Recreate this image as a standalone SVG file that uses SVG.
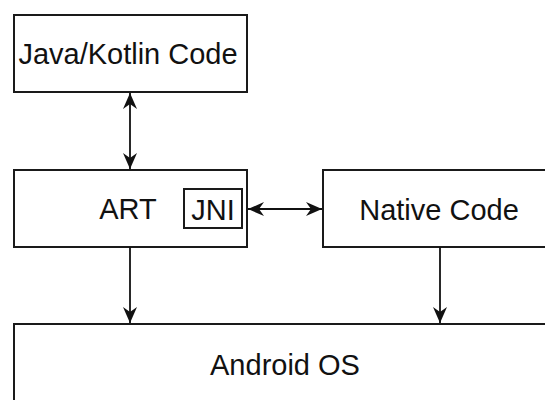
<svg xmlns="http://www.w3.org/2000/svg" width="545" height="400" viewBox="0 0 545 400">
<style>
.box{fill:#fff;stroke:#1a1a1a;stroke-width:2}
.lbl{font-family:"Liberation Sans",Arial,Helvetica,sans-serif;font-size:29px;fill:#111;text-anchor:middle}
.con{stroke:#111;stroke-width:1.8;fill:none}
</style>
<defs>
<marker id="ah" markerUnits="userSpaceOnUse" viewBox="0 0 16 16" markerWidth="16" markerHeight="16" refX="16" refY="8" orient="auto-start-reverse">
<path d="M0,1 L16,8 L0,15 L5,8 Z" fill="#111"/>
</marker>
</defs>
<rect width="545" height="400" fill="#fff"/>
<g id="java">
<rect class="box" x="14" y="15" width="233" height="77"/>
<text class="lbl" x="128" y="64">Java/Kotlin Code</text>
</g>
<g id="art">
<rect class="box" x="14" y="170" width="233" height="77"/>
<text class="lbl" x="128" y="219">ART</text>
<g id="jni">
<rect class="box" x="184" y="189" width="58" height="39"/>
<text class="lbl" x="213" y="220">JNI</text>
</g>
</g>
<g id="native">
<rect class="box" x="323" y="170" width="240" height="77"/>
<text class="lbl" x="439" y="220">Native Code</text>
</g>
<g id="android">
<rect class="box" x="14" y="324" width="550" height="100"/>
<text class="lbl" x="285" y="375">Android OS</text>
</g>
<g id="connectors">
<line class="con" x1="130" y1="93" x2="130" y2="169" marker-start="url(#ah)" marker-end="url(#ah)"/>
<line class="con" x1="248" y1="209" x2="322" y2="209" marker-start="url(#ah)" marker-end="url(#ah)"/>
<line class="con" x1="130" y1="247" x2="130" y2="323" marker-end="url(#ah)"/>
<line class="con" x1="440" y1="247" x2="440" y2="323" marker-end="url(#ah)"/>
</g>
</svg>
